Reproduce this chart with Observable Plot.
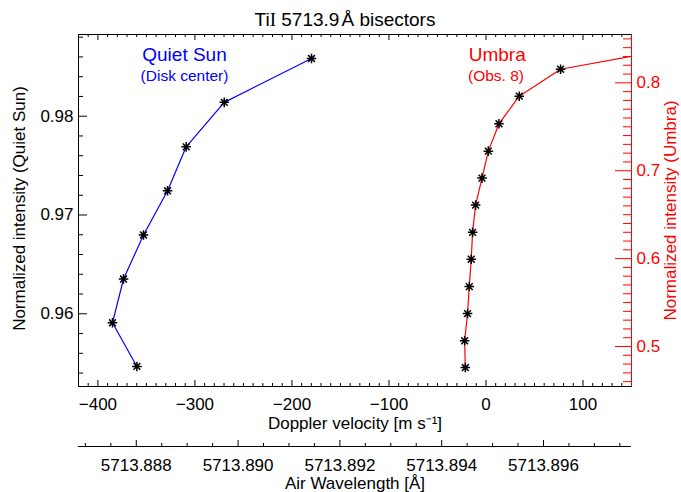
<!DOCTYPE html>
<html>
<head>
<meta charset="utf-8">
<script src="https://cdn.jsdelivr.net/npm/d3@7"></script>
<script src="https://cdn.jsdelivr.net/npm/@observablehq/plot@0.6"></script>
<style>
  html, body { margin: 0; padding: 0; background: #fff; width: 681px; height: 492px; overflow: hidden; }
  #title {
    width: 681px; height: 30px; box-sizing: border-box; padding-top: 10px; padding-left: 9px;
    text-align: center; font-family: "Liberation Sans", Arial, Helvetica, sans-serif;
    font-size: 19px; line-height: 19px; color: #000; white-space: nowrap;
  }
  #title .roman { font-family: "Liberation Serif", "Times New Roman", serif; }
  svg { display: block; }
</style>
</head>
<body>
<div id="title">Ti<span class="roman">I</span> 5713.9<span style="margin-left:2px">Å</span> bisectors</div>
<div id="main"></div>
<div id="wave"></div>
<script>
// ---------------- data ----------------
const quietVelocity  = [-359.8, -385.0, -373.6, -353.0, -328.2, -309.0, -269.8, -179.8];
const quietIntensity = [0.95467, 0.95909, 0.96352, 0.96798, 0.97245, 0.97690, 0.98140, 0.98584];

const umbraVelocity  = [-21.3, -22.0, -19.0, -17.2, -15.2, -13.8, -10.7, -4.1, 2.4, 13.4, 34.3, 76.9, 230];
const umbraIntensity = [0.4761, 0.5065, 0.5375, 0.5682, 0.5993, 0.6299, 0.6609, 0.6916, 0.7223, 0.7534, 0.7848, 0.8155, 0.8463];

const velocityTicks   = [-400, -300, -200, -100, 0, 100];
const quietTicks      = [0.96, 0.97, 0.98];
const umbraTicks      = [0.5, 0.6, 0.7, 0.8];
const wavelengthTicks = [5713.888, 5713.890, 5713.892, 5713.894, 5713.896];

const velocityDomain = [-420, 150];
const quietDomain    = [0.95264, 0.98827];
const umbraDomain    = [0.4545, 0.855];
const lambda0 = 5713.89487;          // Å, rest wavelength at v = 0
const cLight  = 299792458;           // m/s

const xLabel      = "Doppler velocity [m s⁻¹]";
const yLabelLeft  = "Normalized intensity (Quiet Sun)";
const yLabelRight = "Normalized intensity (Umbra)";
const wLabel      = "Air Wavelength [Å]";

// ---------------- helpers ----------------
const RED = "#ff0000", BLUE = "#0000ff";
const FONT = "'Liberation Sans', Arial, Helvetica, sans-serif";
const toQ = u => quietDomain[0] + (u - umbraDomain[0]) * (quietDomain[1] - quietDomain[0]) / (umbraDomain[1] - umbraDomain[0]);

const velMinor = d3.range(-41, 15).map(i => i * 10).filter(v => v > velocityDomain[0] && v < velocityDomain[1] && !velocityTicks.includes(v));
const qMinor = d3.range(477, 495).map(i => i * 2 / 1000).filter(v => v > quietDomain[0] && v < quietDomain[1] && !quietTicks.some(t => Math.abs(t - v) < 1e-9));
const uMinor = d3.range(46, 86).map(i => i / 100).filter(v => v > umbraDomain[0] && v < umbraDomain[1] && !umbraTicks.some(t => Math.abs(t - v) < 1e-9));
const wlDomain = velocityDomain.map(v => lambda0 * (1 + v / cLight));
const wlMinor = d3.range(0, 24).map(i => 5713.8865 + i * 0.0005).filter(w => w > wlDomain[0] && w < wlDomain[1] && !wavelengthTicks.some(t => Math.abs(t - w) < 1e-7));

const quietData = quietVelocity.map((v, i) => ({v, I: quietIntensity[i]}));
const umbraData = umbraVelocity.map((v, i) => ({v, I: toQ(umbraIntensity[i])}));

const asterisk = {
  draw(ctx, size) {
    const r = Math.sqrt(size / Math.PI);
    const d = r * Math.SQRT1_2;
    ctx.moveTo(-r, 0); ctx.lineTo(r, 0);
    ctx.moveTo(0, -r); ctx.lineTo(0, r);
    ctx.moveTo(-d, -d); ctx.lineTo(d, d);
    ctx.moveTo(-d, d); ctx.lineTo(d, -d);
  }
};

const fmtV = d3.format("d");
const fmtQ = d3.format(".2f");
const fmtU = d3.format(".1f");
const fmtW = d3.format(".3f");

const W = 681, H1 = 406, ML = 78, MR = 50, MT = 4, MB = 50;
const FW = W - ML - MR, FH = H1 - MT - MB;

const main = Plot.plot({
  width: W, height: H1,
  marginLeft: ML, marginRight: MR, marginTop: MT, marginBottom: MB,
  x: {domain: velocityDomain, axis: null},
  y: {domain: quietDomain, axis: null},
  style: {fontFamily: FONT, fontSize: "17px", background: "#fff", color: "#000", overflow: "visible"},
  marks: [
    // ticks (inward)
    Plot.ruleX(velMinor, {insetTop: FH - 3, stroke: "#000"}),
    Plot.ruleX(velocityTicks, {insetTop: FH - 6, stroke: "#000"}),
    Plot.ruleX(velMinor, {insetBottom: FH - 3, stroke: "#000"}),
    Plot.ruleX(velocityTicks, {insetBottom: FH - 6, stroke: "#000"}),
    Plot.ruleY(qMinor, {insetRight: FW - 5, stroke: "#000"}),
    Plot.ruleY(quietTicks, {insetRight: FW - 9, stroke: "#000"}),
    Plot.ruleY(uMinor.map(toQ), {insetLeft: FW - 8, stroke: RED}),
    Plot.ruleY(umbraTicks.map(toQ), {insetLeft: FW - 16, stroke: RED}),
    Plot.frame({stroke: "#000"}),
    Plot.ruleX([velocityDomain[1]], {stroke: RED}),
    // tick labels
    Plot.text(velocityTicks, {x: d => d, text: d => fmtV(d), frameAnchor: "bottom", dy: 23.3, lineAnchor: "bottom", textAnchor: "middle", fill: "#000"}),
    Plot.text(quietTicks, {y: d => d, text: d => fmtQ(d), frameAnchor: "left", dx: -5, textAnchor: "end", lineAnchor: "middle", fill: "#000"}),
    Plot.text(umbraTicks, {y: d => toQ(d), text: d => fmtU(d), frameAnchor: "right", dx: 5, textAnchor: "start", lineAnchor: "middle", fill: RED}),
    // axis labels
    Plot.text([xLabel], {text: d => d, frameAnchor: "bottom", dy: 42, lineAnchor: "bottom", textAnchor: "middle", fill: "#000"}),
    Plot.text([yLabelLeft], {text: d => d, frameAnchor: "left", dx: -66, dy: -2, rotate: -90, lineAnchor: "top", textAnchor: "middle", fill: "#000"}),
    Plot.text([yLabelRight], {text: d => d, frameAnchor: "right", dx: 32, rotate: -90, lineAnchor: "top", textAnchor: "middle", fill: RED}),
    // annotations
    Plot.text(["Quiet Sun"], {text: d => d, frameAnchor: "top-left", dx: 106, dy: 26, lineAnchor: "bottom", textAnchor: "middle", fill: BLUE, fontSize: 19}),
    Plot.text(["(Disk center)"], {text: d => d, frameAnchor: "top-left", dx: 106, dy: 46, lineAnchor: "bottom", textAnchor: "middle", fill: BLUE, fontSize: 15.5}),
    Plot.text(["Umbra"], {text: d => d, frameAnchor: "top-right", dx: -134.3, dy: 26.5, lineAnchor: "bottom", textAnchor: "middle", fill: RED, fontSize: 19}),
    Plot.text(["(Obs. 8)"], {text: d => d, frameAnchor: "top-right", dx: -135.5, dy: 46, lineAnchor: "bottom", textAnchor: "middle", fill: RED, fontSize: 15.5}),
    // data
    Plot.line(quietData, {x: "v", y: "I", stroke: BLUE, strokeWidth: 1.2, clip: true}),
    Plot.line(umbraData, {x: "v", y: "I", stroke: RED, strokeWidth: 1.2, clip: true}),
    Plot.dot(quietData, {x: "v", y: "I", symbol: asterisk, r: 4.8, stroke: "#000", fill: "none", strokeWidth: 1.5, clip: true}),
    Plot.dot(umbraData, {x: "v", y: "I", symbol: asterisk, r: 4.8, stroke: "#000", fill: "none", strokeWidth: 1.5, clip: true})
  ]
});
document.getElementById("main").appendChild(main);

const wave = Plot.plot({
  width: W, height: 56,
  marginLeft: ML, marginRight: MR, marginTop: 4, marginBottom: 46,
  x: {domain: wlDomain, axis: null},
  y: {domain: [0, 1], axis: null},
  style: {fontFamily: FONT, fontSize: "17px", background: "#fff", color: "#000", overflow: "visible"},
  marks: [
    Plot.ruleY([0], {stroke: "#000"}),
    Plot.ruleX(wlMinor, {insetTop: 3, stroke: "#000"}),
    Plot.ruleX(wavelengthTicks, {stroke: "#000"}),
    Plot.text(wavelengthTicks, {x: d => d, text: d => fmtW(d), frameAnchor: "bottom", dy: 24, lineAnchor: "bottom", textAnchor: "middle", fill: "#000"}),
    Plot.text([wLabel], {text: d => d, frameAnchor: "bottom", dy: 42, lineAnchor: "bottom", textAnchor: "middle", fill: "#000"})
  ]
});
document.getElementById("wave").appendChild(wave);
</script>
</body>
</html>
